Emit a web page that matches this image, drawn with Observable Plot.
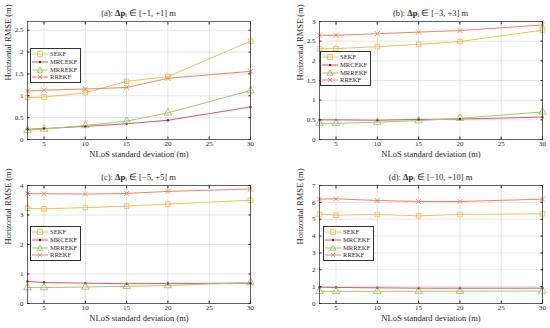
<!DOCTYPE html>
<html>
<head>
<meta charset="utf-8">
<script src="https://cdn.jsdelivr.net/npm/d3@7"></script>
<script src="https://cdn.jsdelivr.net/npm/@observablehq/plot@0.6"></script>
<style>
  html, body { margin: 0; padding: 0; background: #fff; }
  #root { position: relative; width: 550px; height: 328px; font-family: "Liberation Serif", serif; color: #262626; }
  .panel { position: absolute; width: 275px; height: 164px; }
  .title { position: absolute; top: 8px; text-align: center; font-size: 8.5px; line-height: 11px; white-space: nowrap; }
  .title sub { font-size: 6px; vertical-align: -1px; }
  .legend { position: absolute; background: #fff; border: 0.7px solid #333; padding: 1px 3px 1px 1px; font-size: 6.6px; line-height: 7.8px; }
  .legend .row { display: flex; align-items: center; height: 7.8px; }
  .legend svg { margin-right: 2px; }
</style>
</head>
<body>
<div id="root"></div>
<script>
const xValues = [3, 5, 10, 15, 20, 30];
const seriesNames = ["SEKF", "MRCEKF", "MRREKF", "RREKF"];
const panelTitles = ["(a):", "(b):", "(c):", "(d):"];
const panelRanges = ["[\u22121, +1] m", "[\u22123, +3] m", "[\u22125, +5] m", "[\u221210, +10] m"];
const xLabel = "NLoS standard deviation (m)";
const yLabel = "Horizontal RMSE (m)";

// Panel (a)
const a_SEKF   = [0.96, 0.97, 1.07, 1.33, 1.44, 2.25];
const a_MRCEKF = [0.235, 0.25, 0.30, 0.36, 0.44, 0.745];
const a_MRREKF = [0.21, 0.24, 0.32, 0.42, 0.61, 1.12];
const a_RREKF  = [1.11, 1.13, 1.155, 1.19, 1.40, 1.56];
// Panel (b)
const b_SEKF   = [2.31, 2.31, 2.36, 2.42, 2.49, 2.78];
const b_MRCEKF = [0.50, 0.50, 0.49, 0.51, 0.52, 0.57];
const b_MRREKF = [0.41, 0.41, 0.44, 0.48, 0.54, 0.70];
const b_RREKF  = [2.65, 2.65, 2.69, 2.73, 2.77, 2.91];
// Panel (c)
const c_SEKF   = [3.23, 3.21, 3.25, 3.30, 3.37, 3.50];
const c_MRCEKF = [0.75, 0.71, 0.69, 0.67, 0.68, 0.69];
const c_MRREKF = [0.54, 0.54, 0.56, 0.58, 0.61, 0.71];
const c_RREKF  = [3.73, 3.72, 3.71, 3.73, 3.80, 3.88];
// Panel (d)
const d_SEKF   = [5.30, 5.24, 5.28, 5.20, 5.28, 5.32];
const d_MRCEKF = [0.97, 0.95, 0.93, 0.91, 0.91, 0.91];
const d_MRREKF = [0.72, 0.72, 0.72, 0.73, 0.73, 0.74];
const d_RREKF  = [6.19, 6.21, 6.11, 6.05, 6.05, 6.19];

const yMax = [2.7, 3, 4, 7];
const yTicks = [
  [0, 0.5, 1, 1.5, 2, 2.5],
  [0, 0.5, 1, 1.5, 2, 2.5, 3],
  [0, 1, 2, 3, 4],
  [0, 1, 2, 3, 4, 5, 6, 7]
];
const xTicks = [5, 10, 15, 20, 25, 30];

const panelData = [
  [a_SEKF, a_MRCEKF, a_MRREKF, a_RREKF],
  [b_SEKF, b_MRCEKF, b_MRREKF, b_RREKF],
  [c_SEKF, c_MRCEKF, c_MRREKF, c_RREKF],
  [d_SEKF, d_MRCEKF, d_MRREKF, d_RREKF]
];

const style = {
  SEKF:   { line: "#f3bf55", mark: "#f0b43c", symbol: "square",   r: 2.6, fill: "none" },
  MRCEKF: { line: "#d9546c", mark: "#a0142e", symbol: "circle",   r: 1.2, fill: "#a0142e" },
  MRREKF: { line: "#9fcc66", mark: "#8cc04a", symbol: "triangle", r: 2.8, fill: "none" },
  RREKF:  { line: "#f08462", mark: "#ee7a55", symbol: "times",    r: 2.5, fill: "none" }
};

const layout = [
  { left: 0,   top: 0,   ml: 27, mr: 25, legend: { left: 30, top: 48 } },
  { left: 275, top: 0,   ml: 44, mr: 8,  legend: { left: 45, top: 51 } },
  { left: 0,   top: 164, ml: 27, mr: 25, legend: { left: 30, top: 62 } },
  { left: 275, top: 164, ml: 44, mr: 8,  legend: { left: 48, top: 62 } }
];

const root = document.getElementById("root");

panelData.forEach((series, i) => {
  const L = layout[i];
  const rows = [];
  series.forEach((vals, s) => vals.forEach((v, k) => rows.push({ x: xValues[k], y: v, series: seriesNames[s] })));

  const marks = [
    Plot.gridX(xTicks, { stroke: "#000", strokeOpacity: 0.1 }),
    Plot.gridY(yTicks[i], { stroke: "#000", strokeOpacity: 0.1 }),
  ];
  seriesNames.forEach(name => {
    const st = style[name];
    const d = rows.filter(r => r.series === name);
    marks.push(Plot.line(d, { x: "x", y: "y", stroke: st.line, strokeWidth: 1 }));
  });
  seriesNames.forEach(name => {
    const st = style[name];
    const d = rows.filter(r => r.series === name);
    marks.push(Plot.dot(d, { x: "x", y: "y", symbol: () => st.symbol, r: st.r, stroke: st.fill === "none" ? st.mark : "none", fill: st.fill, strokeWidth: 0.8 }));
  });
  marks.push(
    Plot.frame({ stroke: "#262626", strokeWidth: 0.7 }),
    Plot.axisX(xTicks, { tickSize: 0, tickPadding: 2, fontSize: 7, label: null }),
    Plot.axisY(yTicks[i], { tickSize: 0, tickPadding: 4, fontSize: 7, tickFormat: d => String(d), label: null }),
    Plot.axisX(xTicks, { tickSize: -2.5, tickFormat: () => "", label: null, stroke: "#262626" }),
    Plot.axisX(xTicks, { anchor: "top", tickSize: -2.5, tickFormat: () => "", label: null, stroke: "#262626" }),
    Plot.axisY(yTicks[i], { tickSize: -2.5, tickFormat: () => "", label: null, stroke: "#262626" }),
    Plot.axisY(yTicks[i], { anchor: "right", tickSize: -2.5, tickFormat: () => "", label: null, stroke: "#262626" }),
    Plot.text([xLabel], { text: d => d, frameAnchor: "bottom", dy: 17, fontSize: 8.5, fill: "#262626" }),
    Plot.text([yLabel], { text: d => d, frameAnchor: "left", rotate: -90, dx: -19, fontSize: 8.5, fill: "#262626" })
  );

  const chart = Plot.plot({
    width: 275,
    height: 164,
    marginLeft: L.ml,
    marginRight: L.mr,
    marginTop: 21,
    marginBottom: 25,
    x: { domain: [3, 30] },
    y: { domain: [0, yMax[i]] },
    style: { fontFamily: "'Liberation Serif', serif", fontSize: "8.5px", color: "#262626", background: "transparent", overflow: "visible" },
    marks
  });

  const panel = document.createElement("div");
  panel.className = "panel";
  panel.style.left = L.left + "px";
  panel.style.top = L.top + "px";
  panel.appendChild(chart);

  const title = document.createElement("div");
  title.className = "title";
  title.style.left = L.ml + "px";
  title.style.width = (275 - L.ml - L.mr) + "px";
  title.innerHTML = panelTitles[i] + " <b>\u0394p</b><sub>i</sub> \u2208 " + panelRanges[i];
  panel.appendChild(title);

  const legend = document.createElement("div");
  legend.className = "legend";
  legend.style.left = L.legend.left + "px";
  legend.style.top = L.legend.top + "px";
  seriesNames.forEach(name => {
    const st = style[name];
    const row = document.createElement("div");
    row.className = "row";
    let sym = "";
    const cx = 8, cy = 4;
    if (st.symbol === "square") sym = `<rect x="${cx-2.4}" y="${cy-2.4}" width="4.8" height="4.8" fill="none" stroke="${st.mark}" stroke-width="0.8"/>`;
    if (st.symbol === "circle") sym = `<circle cx="${cx}" cy="${cy}" r="1.2" fill="${st.mark}"/>`;
    if (st.symbol === "triangle") sym = `<path d="M${cx},${cy-3} L${cx+3},${cy+2.2} L${cx-3},${cy+2.2} Z" fill="none" stroke="${st.mark}" stroke-width="0.8"/>`;
    if (st.symbol === "times") sym = `<path d="M${cx-2},${cy-2} L${cx+2},${cy+2} M${cx-2},${cy+2} L${cx+2},${cy-2}" stroke="${st.mark}" stroke-width="0.8"/>`;
    row.innerHTML = `<svg width="16" height="8"><line x1="0" x2="16" y1="4" y2="4" stroke="${st.line}" stroke-width="1"/>${sym}</svg><span>${name}</span>`;
    legend.appendChild(row);
  });
  panel.appendChild(legend);

  root.appendChild(panel);
});
</script>
</body>
</html>
